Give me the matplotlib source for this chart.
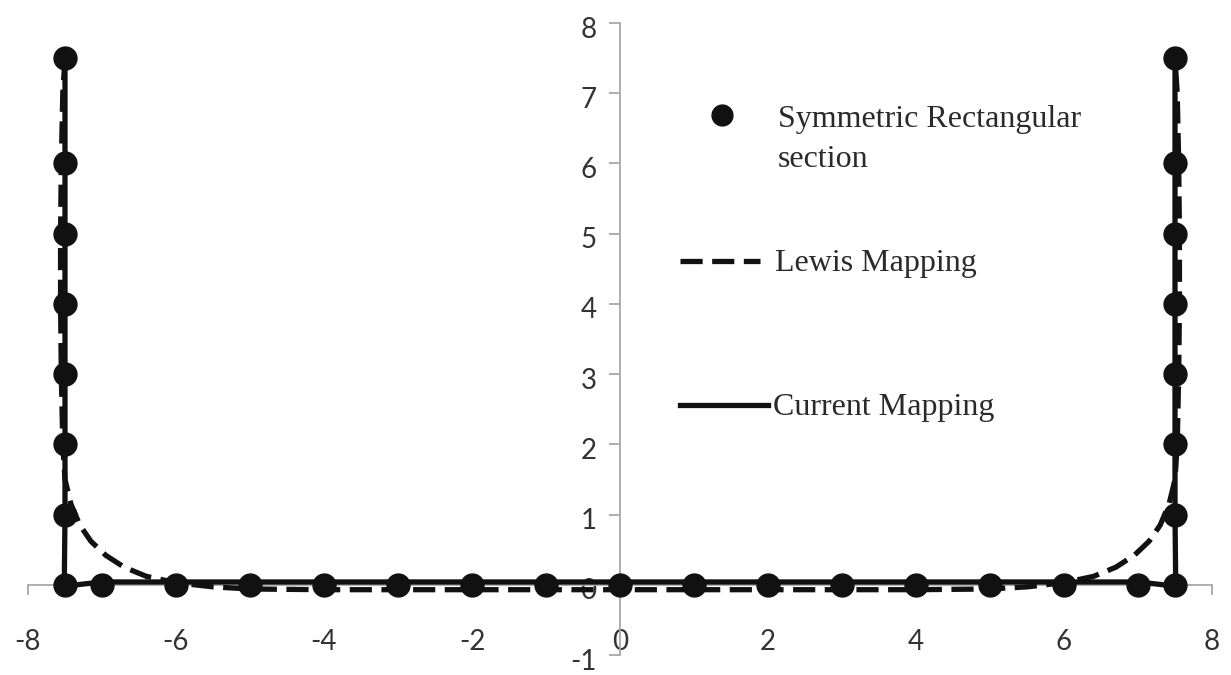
import matplotlib
matplotlib.use("Agg")
import matplotlib.pyplot as plt
import matplotlib.transforms as mtransforms
from matplotlib.lines import Line2D

# Symmetric rectangular section (marker points)
section_x = [-7.5, -7.5, -7.5, -7.5, -7.5, -7.5, -7.5, -7.5,
             -7, -6, -5, -4, -3, -2, -1, 0, 1, 2, 3, 4, 5, 6, 7,
             7.5, 7.5, 7.5, 7.5, 7.5, 7.5, 7.5, 7.5]
section_y = [7.5, 6, 5, 4, 3, 2, 1, 0,
             0, 0, 0, 0, 0, 0, 0, 0, 0, 0, 0, 0, 0, 0, 0,
             0, 1, 2, 3, 4, 5, 6, 7.5]

# Lewis mapping contour
lewis_x = [-7.50, -7.53, -7.55, -7.56, -7.56, -7.55, -7.53, -7.50,
           -7.42, -7.30, -7.15, -6.95, -6.70, -6.40, -6.00, -5.50, -5.00,
           -4.00, -3.00, -2.00, -1.00, 0.00, 1.00, 2.00, 3.00, 4.00,
           5.00, 5.50, 6.00, 6.40, 6.70, 6.95, 7.15, 7.30, 7.42, 7.50,
           7.53, 7.55, 7.56, 7.56, 7.55, 7.53, 7.50]
lewis_y = [7.50, 7.00, 6.00, 5.00, 4.00, 3.00, 2.00, 1.50,
           1.15, 0.85, 0.62, 0.42, 0.25, 0.12, 0.03, -0.03, -0.06,
           -0.07, -0.07, -0.07, -0.07, -0.07, -0.07, -0.07, -0.07, -0.07,
           -0.06, -0.03, 0.03, 0.12, 0.25, 0.42, 0.62, 0.85, 1.15, 1.50,
           2.00, 3.00, 4.00, 5.00, 6.00, 7.00, 7.50]

# Current mapping contour
current_x = [-7.50, -7.50, -7.50, -7.50, -7.50, -7.50, -7.50, -7.51,
             -7.00, -6.00, 0.00, 6.00, 7.00,
             7.51, 7.50, 7.50, 7.50, 7.50, 7.50, 7.50, 7.50]
current_y = [7.50, 6.00, 5.00, 4.00, 3.00, 2.00, 1.00, -0.02,
             0.04, 0.04, 0.04, 0.04, 0.04,
             -0.02, 1.00, 2.00, 3.00, 4.00, 5.00, 6.00, 7.50]

x_ticks = [-8, -6, -4, -2, 0, 2, 4, 6, 8]
y_ticks = [-1, 0, 1, 2, 3, 4, 5, 6, 7, 8]

labels = ["Symmetric Rectangular\nsection", "Lewis Mapping", "Current Mapping"]

W, H = 1231, 675
fig = plt.figure(figsize=(W / 100, H / 100), dpi=100)
ax = fig.add_axes([28 / W, 20 / H, 1184 / W, 632 / H])

line_w = 3.8
dash = (0, (4.2, 1.8))

ax.plot(lewis_x, lewis_y, color="#111111", lw=line_w, linestyle=dash,
        zorder=3)
ax.plot(current_x, current_y, color="#111111", lw=line_w, zorder=3)
ax.plot(section_x, section_y, linestyle="none", marker="o", ms=16.5,
        color="#111111", zorder=4)

ax.set_xlim(-8, 8)
ax.set_ylim(-1, 8)
ax.set_xticks(x_ticks)
ax.set_yticks(y_ticks)
ax.set_xticklabels([str(v) for v in x_ticks])
ax.set_yticklabels([str(v) for v in y_ticks])

axis_gray = "#a8a8a8"
for side in ("top", "right"):
    ax.spines[side].set_visible(False)
ax.spines["left"].set_position(("data", 0))
ax.spines["bottom"].set_position(("data", 0))
for side in ("left", "bottom"):
    ax.spines[side].set_color(axis_gray)
    ax.spines[side].set_linewidth(1.3)
    ax.spines[side].set_zorder(1)
ax.set_axisbelow(True)

ax.tick_params(axis="x", direction="out", length=7, width=1.3,
               color=axis_gray, pad=25, labelcolor="#333333")
ax.tick_params(axis="y", direction="out", length=8, width=1.3,
               color=axis_gray, pad=9, labelcolor="#333333")
for lab in ax.get_xticklabels() + ax.get_yticklabels():
    lab.set_fontfamily("Lato")
    lab.set_fontsize(20)

# value labels on the vertical axis sit a little below their ticks
shift_down = mtransforms.ScaledTranslation(0, -4 / 100, fig.dpi_scale_trans)
for lab in ax.get_yticklabels():
    lab.set_transform(lab.get_transform() + shift_down)

# Key, placed in axes coordinates
def fx(px):
    return (px - 28) / 1184


def fy(py):
    return (655 - py) / 632


legend_font = {"family": "Liberation Serif", "size": 23, "color": "#2a2a2a"}
ax.add_line(Line2D([fx(722)], [fy(115)], marker="o", ms=15,
                   color="#111111", linestyle="none",
                   transform=ax.transAxes, clip_on=False))
ax.text(fx(778), fy(167), labels[0], transform=ax.transAxes,
        va="baseline", ha="left", linespacing=1.5, **legend_font)

ax.add_line(Line2D([fx(680), fx(760)], [fy(261), fy(261)], lw=line_w,
                   linestyle=dash, color="#111111",
                   transform=ax.transAxes, clip_on=False))
ax.text(fx(775), fy(271), labels[1], transform=ax.transAxes,
        va="baseline", ha="left", **legend_font)

ax.add_line(Line2D([fx(680), fx(768)], [fy(405), fy(405)], lw=line_w,
                   color="#111111", transform=ax.transAxes, clip_on=False))
ax.text(fx(773), fy(415), labels[2], transform=ax.transAxes,
        va="baseline", ha="left", **legend_font)

fig.savefig("out.png", dpi=100)
